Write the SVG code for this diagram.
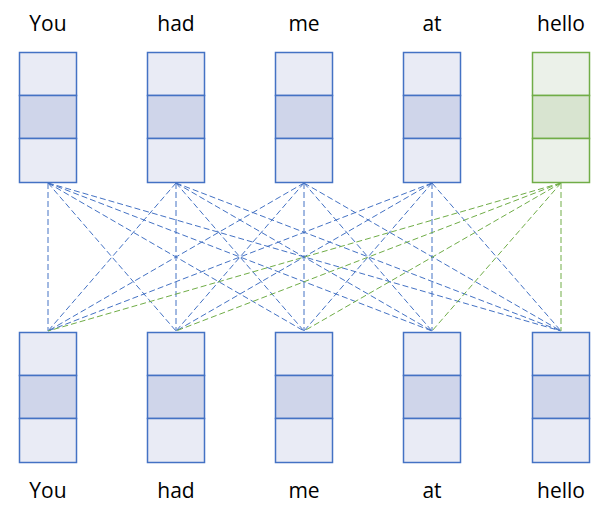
<svg xmlns="http://www.w3.org/2000/svg" width="610" height="523" viewBox="0 0 610 523">
<style>
.lbl{font-family:"Open Sans","Liberation Sans",sans-serif;font-size:21px;fill:#000;text-anchor:middle}
.b rect{stroke:#4472C4;stroke-width:1.5}
.b .l{fill:#E9EBF5}.b .d{fill:#CFD5EA}
.g rect{stroke:#70AD47;stroke-width:1.5}
.g .l{fill:#EBF1E9}.g .d{fill:#D8E4D0}
.cb line{stroke:#4472C4;stroke-width:1;stroke-dasharray:6 3;fill:none}
.cg line{stroke:#70AD47;stroke-width:1;stroke-dasharray:6 3;fill:none}
</style>
<g id="connectors">
<g class="cb">
<line x1="48" y1="183" x2="48" y2="331"/><line x1="48" y1="183" x2="176" y2="331"/><line x1="48" y1="183" x2="304" y2="331"/><line x1="48" y1="183" x2="432" y2="331"/><line x1="48" y1="183" x2="561" y2="331"/>
<line x1="176" y1="183" x2="48" y2="331"/><line x1="176" y1="183" x2="176" y2="331"/><line x1="176" y1="183" x2="304" y2="331"/><line x1="176" y1="183" x2="432" y2="331"/><line x1="176" y1="183" x2="561" y2="331"/>
<line x1="304" y1="183" x2="48" y2="331"/><line x1="304" y1="183" x2="176" y2="331"/><line x1="304" y1="183" x2="304" y2="331"/><line x1="304" y1="183" x2="432" y2="331"/><line x1="304" y1="183" x2="561" y2="331"/>
<line x1="432" y1="183" x2="48" y2="331"/><line x1="432" y1="183" x2="176" y2="331"/><line x1="432" y1="183" x2="304" y2="331"/><line x1="432" y1="183" x2="432" y2="331"/><line x1="432" y1="183" x2="561" y2="331"/>
</g>
<g class="cg">
<line x1="561" y1="183" x2="48" y2="331"/><line x1="561" y1="183" x2="176" y2="331"/><line x1="561" y1="183" x2="304" y2="331"/><line x1="561" y1="183" x2="432" y2="331"/><line x1="561" y1="183" x2="561" y2="331"/>
</g>
</g>
<g id="top-you" class="b"><rect class="l" x="19.5" y="52.5" width="57" height="43"/><rect class="d" x="19.5" y="95.5" width="57" height="43"/><rect class="l" x="19.5" y="138.5" width="57" height="44"/><text class="lbl" x="48" y="31">You</text></g>
<g id="top-had" class="b"><rect class="l" x="147.5" y="52.5" width="57" height="43"/><rect class="d" x="147.5" y="95.5" width="57" height="43"/><rect class="l" x="147.5" y="138.5" width="57" height="44"/><text class="lbl" x="176" y="31">had</text></g>
<g id="top-me" class="b"><rect class="l" x="275.5" y="52.5" width="57" height="43"/><rect class="d" x="275.5" y="95.5" width="57" height="43"/><rect class="l" x="275.5" y="138.5" width="57" height="44"/><text class="lbl" x="304" y="31">me</text></g>
<g id="top-at" class="b"><rect class="l" x="403.5" y="52.5" width="57" height="43"/><rect class="d" x="403.5" y="95.5" width="57" height="43"/><rect class="l" x="403.5" y="138.5" width="57" height="44"/><text class="lbl" x="432" y="31">at</text></g>
<g id="top-hello" class="g"><rect class="l" x="532.5" y="52.5" width="57" height="43"/><rect class="d" x="532.5" y="95.5" width="57" height="43"/><rect class="l" x="532.5" y="138.5" width="57" height="44"/><text class="lbl" x="561" y="31">hello</text></g>
<g id="bot-you" class="b"><rect class="l" x="19.5" y="332.5" width="57" height="43"/><rect class="d" x="19.5" y="375.5" width="57" height="43"/><rect class="l" x="19.5" y="418.5" width="57" height="44"/><text class="lbl" x="48" y="498">You</text></g>
<g id="bot-had" class="b"><rect class="l" x="147.5" y="332.5" width="57" height="43"/><rect class="d" x="147.5" y="375.5" width="57" height="43"/><rect class="l" x="147.5" y="418.5" width="57" height="44"/><text class="lbl" x="176" y="498">had</text></g>
<g id="bot-me" class="b"><rect class="l" x="275.5" y="332.5" width="57" height="43"/><rect class="d" x="275.5" y="375.5" width="57" height="43"/><rect class="l" x="275.5" y="418.5" width="57" height="44"/><text class="lbl" x="304" y="498">me</text></g>
<g id="bot-at" class="b"><rect class="l" x="403.5" y="332.5" width="57" height="43"/><rect class="d" x="403.5" y="375.5" width="57" height="43"/><rect class="l" x="403.5" y="418.5" width="57" height="44"/><text class="lbl" x="432" y="498">at</text></g>
<g id="bot-hello" class="b"><rect class="l" x="532.5" y="332.5" width="57" height="43"/><rect class="d" x="532.5" y="375.5" width="57" height="43"/><rect class="l" x="532.5" y="418.5" width="57" height="44"/><text class="lbl" x="561" y="498">hello</text></g>
</svg>
